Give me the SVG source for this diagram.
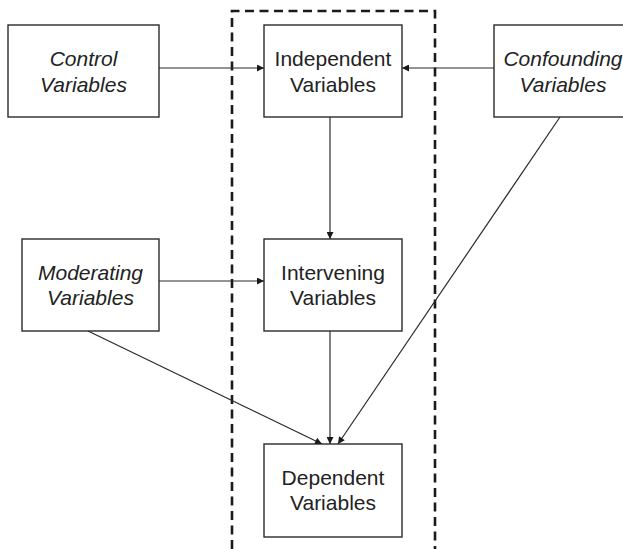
<svg xmlns="http://www.w3.org/2000/svg" width="623" height="549" viewBox="0 0 623 549">
  <style>
    .box { fill: #ffffff; stroke: #2a2a2a; stroke-width: 1.4; }
    .lbl { font-family: "Liberation Sans", Arial, sans-serif; font-size: 21px; fill: #222222; text-anchor: middle; }
    .it { font-style: italic; }
    .edge { fill: none; stroke: #2a2a2a; stroke-width: 1.2; marker-end: url(#arrow); }
    .frame { fill: none; stroke: #1a1a1a; stroke-width: 2.6; stroke-dasharray: 9 5.5; }
  </style>
  <defs>
    <marker id="arrow" viewBox="0 0 10 10" refX="10" refY="5" markerWidth="8" markerHeight="7" markerUnits="userSpaceOnUse" orient="auto">
      <path d="M0,0 L10,5 L0,10 z" fill="#1a1a1a"/>
    </marker>
  </defs>

  <rect width="623" height="549" fill="#ffffff"/>

  <!-- dashed frame open at the bottom -->
  <path class="frame" d="M232,549 V11 H435 V549"/>

  <g id="connectors">
    <line class="edge" x1="159" y1="68" x2="264" y2="68"/>
    <line class="edge" x1="494" y1="68" x2="402" y2="68"/>
    <line class="edge" x1="330" y1="117" x2="330" y2="239"/>
    <line class="edge" x1="159" y1="281" x2="264" y2="281"/>
    <line class="edge" x1="330" y1="331" x2="330" y2="444"/>
    <line class="edge" x1="88" y1="331" x2="322" y2="444"/>
    <line class="edge" x1="560" y1="117" x2="338" y2="444"/>
  </g>

  <g id="control">
    <rect class="box" x="8" y="25" width="151" height="92"/>
    <text class="lbl it" x="83.5" y="66">Control</text>
    <text class="lbl it" x="83.5" y="92">Variables</text>
  </g>

  <g id="independent">
    <rect class="box" x="264" y="25" width="138" height="92"/>
    <text class="lbl" x="333" y="66">Independent</text>
    <text class="lbl" x="333" y="92">Variables</text>
  </g>

  <g id="confounding">
    <rect class="box" x="494" y="25" width="138" height="92"/>
    <text class="lbl it" x="563" y="66">Confounding</text>
    <text class="lbl it" x="563" y="92">Variables</text>
  </g>

  <g id="moderating">
    <rect class="box" x="22" y="239" width="137" height="92"/>
    <text class="lbl it" x="90.5" y="280">Moderating</text>
    <text class="lbl it" x="90.5" y="305">Variables</text>
  </g>

  <g id="intervening">
    <rect class="box" x="264" y="239" width="138" height="92"/>
    <text class="lbl" x="333" y="280">Intervening</text>
    <text class="lbl" x="333" y="305">Variables</text>
  </g>

  <g id="dependent">
    <rect class="box" x="264" y="444" width="138" height="93"/>
    <text class="lbl" x="333" y="485">Dependent</text>
    <text class="lbl" x="333" y="510">Variables</text>
  </g>
</svg>
